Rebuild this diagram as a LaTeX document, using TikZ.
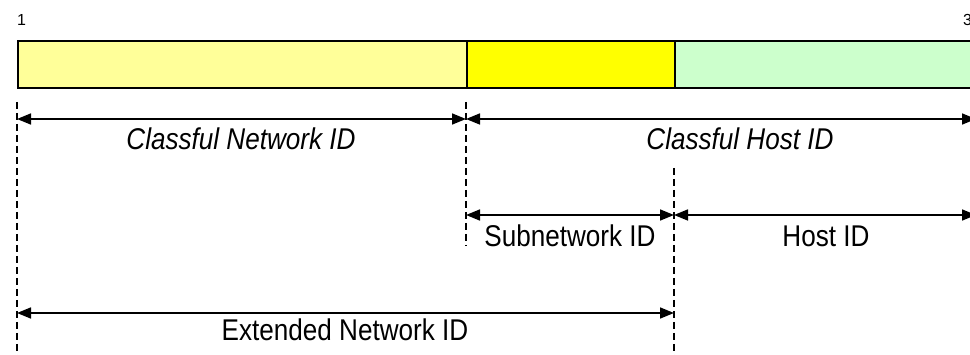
\documentclass[tikz,border=0pt]{standalone}
\usepackage{fontspec}
\setmainfont{Liberation Sans}
\newfontfamily\narrowfont{Liberation Sans}[FakeStretch=0.87]
\usepackage{tikz}
\usetikzlibrary{arrows.meta, positioning, calc}
\definecolor{netyellow}{RGB}{255, 255, 153}
\definecolor{subyellow}{RGB}{255, 255, 0}
\definecolor{hostgreen}{RGB}{204, 255, 204}

\begin{document}
\begin{tikzpicture}[x=1pt, y=-1pt,
  field/.style={draw=black, line width=1.8pt, minimum height=47pt, inner sep=0pt, anchor=north west},
  span/.style={line width=1.6pt, {Triangle[length=14pt,width=11pt]}-{Triangle[length=14pt,width=11pt]}},
  guide/.style={line width=1.5pt, dash pattern=on 7pt off 4pt},
  spanlabel/.style={font=\narrowfont\fontsize{30}{30}\selectfont, anchor=base},
  bitlabel/.style={font=\fontsize{16}{16}\selectfont, anchor=base west, inner sep=0pt}]
  \useasboundingbox (0,0) rectangle (970,355);

  % Bit numbers
  \node[bitlabel] (firstbit) at (17, 26) {1};
  \node[bitlabel] (lastbit) at (963, 26) {32};

  % Address fields
  \node[field, fill=netyellow, minimum width=449pt] (netfield) at (17, 40) {};
  \node[field, fill=subyellow, minimum width=208pt] (subfield) at (466, 40) {};
  \node[field, fill=hostgreen, minimum width=320pt] (hostfield) at (674, 40) {};

  % Guide lines
  \coordinate (g1top) at (17, 102);   \coordinate (g1bot) at (17, 355);
  \coordinate (g2top) at (466, 102);  \coordinate (g2bot) at (466, 246);
  \coordinate (g3top) at (674, 168);  \coordinate (g3bot) at (674, 355);
  \draw[guide] (g1top) -- (g1bot);
  \draw[guide] (g2top) -- (g2bot);
  \draw[guide] (g3top) -- (g3bot);

  % Classful split
  \coordinate (cnl) at (17, 119);  \coordinate (cnr) at (466, 119);
  \coordinate (chr) at (976, 119);
  \draw[span] (cnl) -- (cnr);
  \draw[span] (cnr) -- (chr);
  \node[spanlabel, font=\narrowfont\itshape\fontsize{30}{30}\selectfont] (classnet) at (241, 150) {Classful Network ID};
  \node[spanlabel, font=\narrowfont\itshape\fontsize{30}{30}\selectfont] (classhost) at (740, 150) {Classful Host ID};

  % Subnetted host part
  \coordinate (snl) at (466, 215);  \coordinate (snr) at (674, 215);
  \coordinate (hr) at (976, 215);
  \draw[span] (snl) -- (snr);
  \draw[span] (snr) -- (hr);
  \node[spanlabel] (subnet) at (570, 247) {Subnetwork ID};
  \node[spanlabel] (host) at (826, 247) {Host ID};

  % Extended network prefix
  \coordinate (enl) at (17, 313);  \coordinate (enr) at (674, 313);
  \draw[span] (enl) -- (enr);
  \node[spanlabel] (extnet) at (345, 341) {Extended Network ID};
\end{tikzpicture}
\end{document}
